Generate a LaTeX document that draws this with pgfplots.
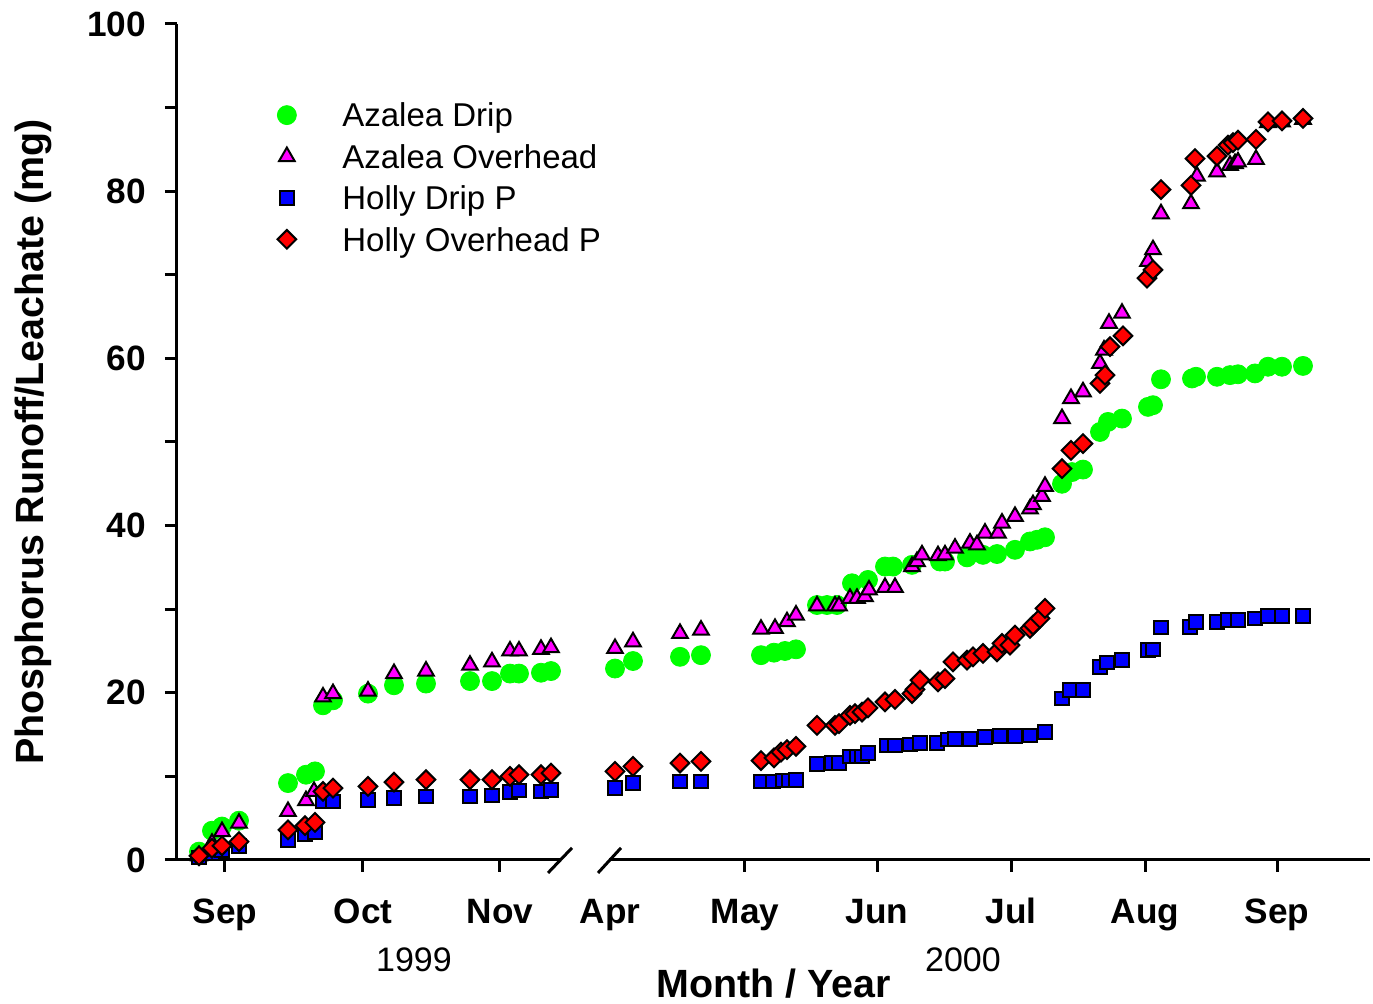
\documentclass[border=0pt]{standalone}
\usepackage{pgfplots}
\pgfplotsset{compat=1.18}
\usepackage{fontspec}
\setmainfont{Liberation Sans}

\definecolor{azdrip}{RGB}{0,255,0}
\definecolor{azover}{RGB}{255,0,255}
\definecolor{hodrip}{RGB}{0,0,255}
\definecolor{hoover}{RGB}{255,0,0}

\begin{document}
\begin{tikzpicture}
\begin{axis}[
  at={(0pt,0pt)}, anchor=south west,
  width=596.5pt, height=418pt, scale only axis,
  xmin=177, xmax=1370, ymin=0, ymax=100,
  clip=false,
  axis x line=bottom, axis y line=left,
  x axis line style={draw=none,-},
  y axis line style={-, line width=1.5pt},
  tick align=outside,
  major tick length=6pt, minor tick length=6pt,
  every tick/.style={black, line width=1.5pt},
  ytick={0,20,...,100},
  minor ytick={10,30,...,90},
  xtick={225,363,500,745,877,1011,1145,1277},
  xticklabels={Sep,Oct,Nov,May,Jun,Jul,Aug,Sep},
  extra x ticks={610}, extra x tick labels={Apr},
  extra x tick style={tick style={draw=none}},
  /pgf/number format/assume math mode=true,
  tick label style={font=\bfseries\fontsize{17.6}{21}\selectfont},
  xticklabel style={anchor=base, yshift=-26pt},
  yticklabel style={anchor=east, xshift=-6pt},
  xlabel={Month / Year},
  xlabel style={font=\bfseries\fontsize{19.7}{24}\selectfont, at={(axis description cs:0.5,0)}, anchor=base, yshift=-69pt},
  ylabel={Phosphorus Runoff/Leachate (mg)},
  ylabel style={font=\bfseries\fontsize{19.7}{24}\selectfont, at={(axis description cs:-0.1123,0.5)}, anchor=base},
  legend style={draw=none, fill=none, inner sep=0pt,
    at={(axis description cs:0.0838,0.91)}, anchor=north west,
    font=\fontsize{16.5}{20}\selectfont,
    row sep=5.2pt, column sep=23pt,
    nodes={inner sep=0pt, text height=13.65pt, text depth=1.85pt}},
  legend cell align=left,
  legend image code/.code={\draw[#1] plot coordinates {(0pt,0pt)};},
]

% Azalea, drip irrigation
\addplot[only marks, mark=*, mark size=4.75pt, color=azdrip, mark options={draw=none, fill=azdrip}] coordinates {
(199,1.0) (212,3.5) (222,4.0) (239,4.7) (288,9.2) (306,10.2) (315,10.6)
(323,18.5) (333,19.1) (368,19.9) (394,20.9) (426,21.1) (470,21.4) (492,21.4)
(510,22.3) (519,22.3) (541,22.4) (551,22.6)
(615,22.9) (633,23.8) (680,24.3) (701,24.5)
(761,24.5) (774,24.8) (785,25.0) (796,25.2) (817,30.5) (827,30.5) (837,30.5)
(852,33.1) (868,33.5) (885,35.1) (893,35.1) (912,35.3) (940,35.7) (945,35.7)
(967,36.2) (983,36.5) (997,36.6) (1015,37.1) (1030,38.1) (1037,38.3) (1045,38.6)
(1062,45.0) (1072,46.4) (1083,46.7) (1100,51.2) (1108,52.4) (1122,52.8)
(1148,54.2) (1153,54.4) (1161,57.5) (1192,57.6) (1196,57.8) (1217,57.8)
(1230,58.0) (1238,58.1) (1255,58.2) (1268,59.0) (1282,59.0) (1303,59.1)
};
\addlegendentry{Azalea Drip}

% Azalea, overhead irrigation
\addplot[only marks, mark=triangle*, mark size=4.5pt, mark options={draw=black, fill=azover, line width=1pt}] coordinates {
(199,0.5) (212,2.0) (222,3.4) (239,4.4) (288,5.8) (306,7.1) (314,8.2)
(323,19.5) (333,19.9) (368,20.2) (394,22.3) (426,22.6) (470,23.3) (492,23.7)
(510,25.0) (519,25.0) (541,25.2) (551,25.4)
(615,25.3) (633,26.1) (680,27.1) (701,27.5)
(761,27.6) (775,27.7) (787,28.5) (796,29.3) (817,30.4) (835,30.4) (839,30.4)
(850,31.3) (857,31.3) (865,31.5) (869,32.3) (885,32.6) (895,32.6)
(912,35.1) (917,35.7) (922,36.5) (938,36.4) (945,36.5) (955,37.3) (970,37.9)
(977,37.7) (985,39.1) (998,39.1) (1002,40.3) (1015,41.1) (1030,42.0) (1033,42.5)
(1042,43.5) (1045,44.7) (1062,52.8) (1071,55.2) (1083,56.0) (1100,59.4)
(1104,61.0) (1109,64.2) (1122,65.4) (1148,71.6) (1153,73.0) (1161,77.3)
(1191,78.5) (1197,81.8) (1217,82.3) (1230,83.1) (1235,83.3) (1238,83.5)
(1256,83.8) (1268,88.2) (1282,88.3) (1303,88.6)
};
\addlegendentry{Azalea Overhead}

% Holly, drip irrigation
\addplot[only marks, mark=square*, mark size=3.4pt, mark options={draw=black, fill=hodrip, line width=1pt}] coordinates {
(199,0.3) (212,0.8) (222,1.2) (239,1.7) (288,2.4) (305,3.1) (315,3.3)
(323,7.0) (333,7.0) (368,7.2) (394,7.4) (426,7.6) (470,7.6) (492,7.7)
(510,8.1) (519,8.3) (541,8.2) (551,8.4)
(615,8.6) (633,9.2) (680,9.4) (701,9.4)
(761,9.4) (773,9.4) (783,9.5) (789,9.5) (796,9.6) (817,11.5) (832,11.6) (839,11.6)
(850,12.4) (857,12.4) (862,12.4) (868,12.8) (887,13.7) (895,13.7) (910,13.8)
(920,14.0) (937,14.0) (948,14.4) (955,14.5) (970,14.5) (985,14.7) (1000,14.8)
(1015,14.8) (1030,14.9) (1045,15.3) (1062,19.3) (1070,20.3) (1083,20.3)
(1100,23.1) (1107,23.6) (1122,23.9) (1148,25.1) (1153,25.2) (1161,27.8)
(1190,27.9) (1196,28.5) (1217,28.5) (1228,28.7) (1238,28.7) (1255,28.9)
(1268,29.2) (1282,29.2) (1303,29.2)
};
\addlegendentry{Holly Drip P}

% Holly, overhead irrigation
\addplot[only marks, mark=square*, mark size=3.3pt, mark options={draw=black, fill=hoover, line width=1pt, rotate=45}] coordinates {
(199,0.5) (212,1.4) (222,1.7) (239,2.2) (288,3.6) (305,4.1) (315,4.5)
(323,8.2) (333,8.6) (368,8.8) (394,9.3) (426,9.6) (470,9.6) (492,9.6)
(510,10.0) (519,10.2) (541,10.2) (551,10.4)
(615,10.6) (633,11.2) (680,11.6) (701,11.8)
(761,11.9) (774,12.2) (781,12.9) (787,13.2) (796,13.6) (817,16.1) (835,16.1)
(839,16.3) (850,17.3) (855,17.5) (862,17.7) (868,18.2) (885,18.9) (895,19.2)
(912,19.9) (915,20.4) (920,21.5) (938,21.3) (945,21.7) (953,23.7) (967,23.9)
(973,24.3) (983,24.7) (997,24.9) (1002,25.9) (1010,25.7) (1015,26.9)
(1030,27.7) (1033,28.1) (1040,28.9) (1045,30.1) (1062,46.8) (1071,49.0)
(1083,49.8) (1100,57.0) (1105,58.0) (1110,61.4) (1123,62.7) (1147,69.6)
(1153,70.6) (1161,80.2) (1191,80.7) (1195,83.9) (1217,84.2) (1228,85.5)
(1233,85.8) (1238,86.1) (1256,86.2) (1268,88.3) (1282,88.4) (1303,88.7)
};
\addlegendentry{Holly Overhead P}

% broken time axis: two line segments with break marks
\draw[line width=1.5pt] (axis cs:177,0) -- (axis cs:560,0);
\draw[line width=1.5pt] (axis cs:609,0) -- (axis cs:1370,0);
\draw[line width=1.5pt] (axis cs:548,-1.55) -- (axis cs:572,1.45);
\draw[line width=1.5pt] (axis cs:598,-1.55) -- (axis cs:621,1.45);

% year captions
\node[anchor=base, yshift=-56pt, font=\fontsize{17}{20}\selectfont] at (axis cs:414,0) {1999};
\node[anchor=base, yshift=-56pt, font=\fontsize{17}{20}\selectfont] at (axis cs:963,0) {2000};
\end{axis}
\pgfresetboundingbox
\useasboundingbox (-88.5pt,-72pt) rectangle (598pt,430pt);
\end{tikzpicture}
\end{document}
